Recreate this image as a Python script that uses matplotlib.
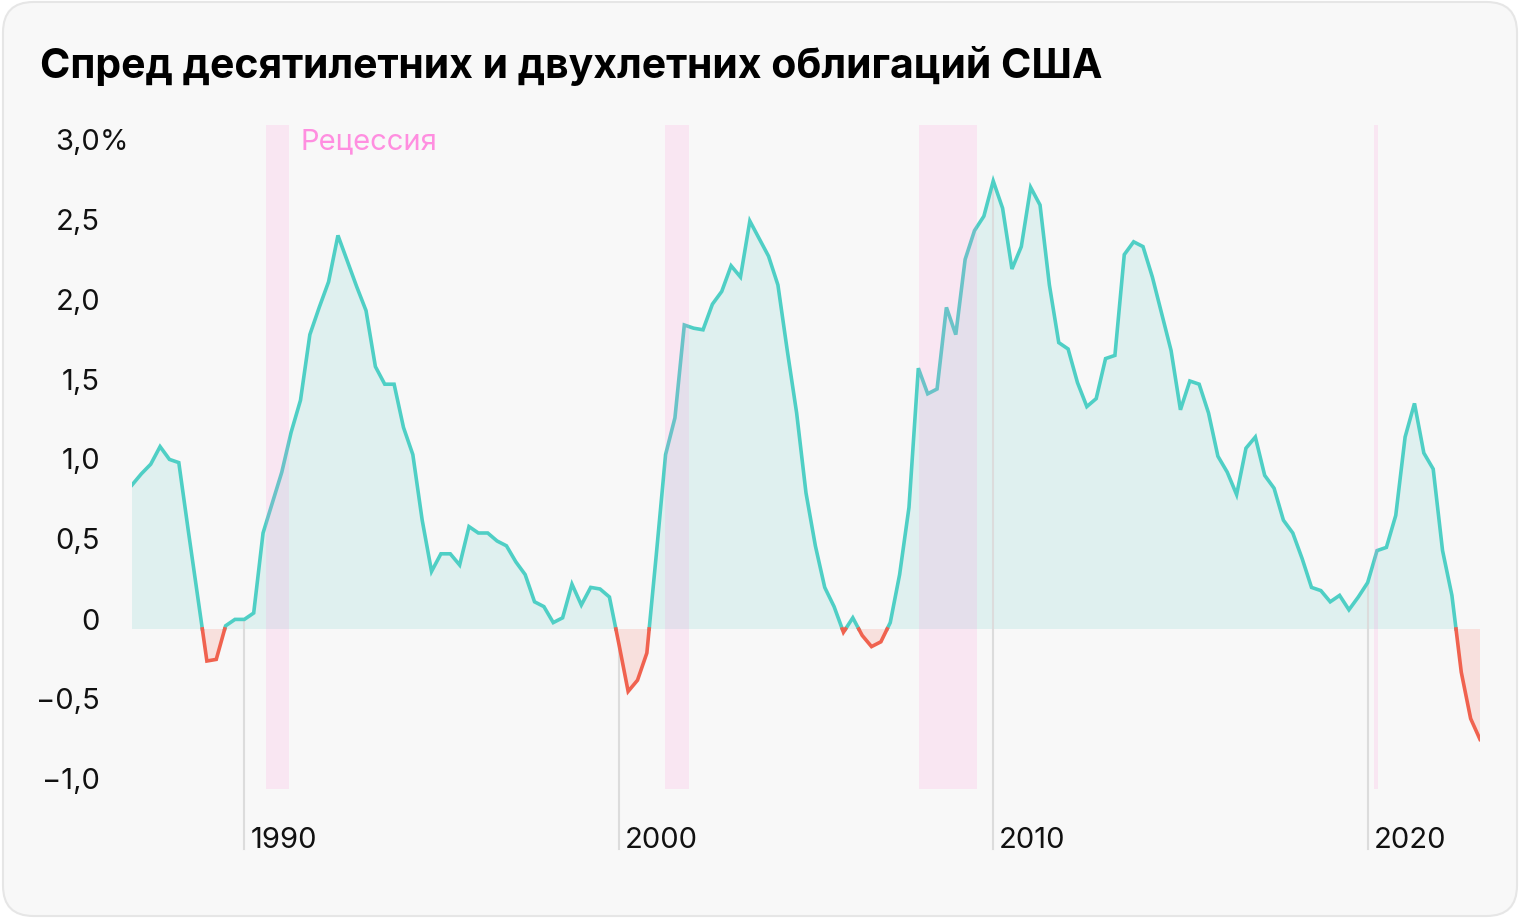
import numpy as np
import pandas as pd
import matplotlib
matplotlib.use("Agg")
import matplotlib.pyplot as plt
import matplotlib.transforms as mtransforms
from matplotlib.patches import FancyBboxPatch

plt.rcParams['font.family'] = ['Inter', 'DejaVu Sans']

# quarterly 10y-2y spread, %, from 1987 Q1
spread = [
    0.90, 0.97, 1.03, 1.14, 1.06, 1.04, 0.62, 0.21, -0.20, -0.19,
    0.02, 0.06, 0.06, 0.10, 0.60, 0.79, 0.98, 1.23, 1.43, 1.84,
    2.01, 2.17, 2.46, 2.30, 2.14, 1.99, 1.64, 1.53, 1.53, 1.26,
    1.09, 0.68, 0.36, 0.47, 0.47, 0.40, 0.64, 0.60, 0.60, 0.55,
    0.52, 0.42, 0.34, 0.17, 0.14, 0.04, 0.07, 0.28, 0.15, 0.26,
    0.25, 0.20, -0.09, -0.39, -0.32, -0.15, 0.46, 1.09, 1.32, 1.90,
    1.88, 1.87, 2.03, 2.11, 2.27, 2.20, 2.55, 2.44, 2.33, 2.15,
    1.74, 1.35, 0.85, 0.52, 0.26, 0.14, -0.02, 0.07, -0.04, -0.11,
    -0.08, 0.04, 0.34, 0.76, 1.63, 1.47, 1.50, 2.01, 1.84, 2.31,
    2.49, 2.58, 2.80, 2.63, 2.25, 2.39, 2.76, 2.65, 2.15, 1.79,
    1.75, 1.54, 1.39, 1.44, 1.69, 1.71, 2.34, 2.42, 2.39, 2.20,
    1.97, 1.74, 1.37, 1.55, 1.53, 1.35, 1.08, 0.98, 0.84, 1.13,
    1.20, 0.96, 0.88, 0.68, 0.60, 0.44, 0.26, 0.24, 0.17, 0.21,
    0.12, 0.20, 0.29, 0.49, 0.51, 0.71, 1.20, 1.41, 1.10, 1.00,
    0.49, 0.21, -0.27, -0.56, -0.69,
]
start = "1987-01-01"

recession_start = [1990.58, 2001.23, 2008.02, 2020.16]
recession_end = [1991.18, 2001.87, 2009.57, 2020.27]

year_ticks = [1990, 2000, 2010, 2020]
y_ticks = [3.0, 2.5, 2.0, 1.5, 1.0, 0.5, 0, -0.5, -1.0]
y_labels = ["3,0", "2,5", "2,0", "1,5", "1,0", "0,5", "0", "\u22120,5", "\u22121,0"]

TEAL = "#4fcfc5"
TEAL_FILL = "#dff0ef"
RED = "#f0624f"
RED_FILL = "#f8e0dd"
PINK = "#ff8ad8"

dates = pd.date_range(start, periods=len(spread), freq="QS")
x = (dates.year + (dates.month - 1) / 12).to_numpy(dtype=float)
y = np.array(spread)

# add zero crossings so the line switches colour exactly at 0
xs, ys = [x[0]], [y[0]]
for i in range(1, len(x)):
    if y[i - 1] * y[i] < 0:
        xc = x[i - 1] + (x[i] - x[i - 1]) * y[i - 1] / (y[i - 1] - y[i])
        xs.append(xc)
        ys.append(0.0)
    xs.append(x[i])
    ys.append(y[i])
xs = np.array(xs)
ys = np.array(ys)

W, H = 1520, 920
fig = plt.figure(figsize=(W / 100, H / 100), dpi=100, facecolor="white")
card = FancyBboxPatch((3 / W, 3 / H), 1 - 6 / W, 1 - 6 / H,
                      boxstyle="round,pad=0,rounding_size=0.02",
                      transform=fig.transFigure, facecolor="#f8f8f8",
                      edgecolor="#e6e6e6", linewidth=1.5, zorder=-10,
                      mutation_aspect=W / H)
fig.patches.append(card)

x0, x1 = 132, 1480
ytop, ybot = 126, 790
ax = fig.add_axes([x0 / W, 1 - ybot / H, (x1 - x0) / W, (ybot - ytop) / H])
ax.set_facecolor("none")
ax.set_xlim(1987, 2023)
ax.set_ylim(-1.0, (630 - ytop) / 160)
for s in ax.spines.values():
    s.set_visible(False)
ax.set_xticks([])
ax.set_yticks([])

ax.fill_between(xs, ys, 0, where=ys >= 0, color=TEAL_FILL, lw=0, zorder=1)
ax.fill_between(xs, ys, 0, where=ys <= 0, color=RED_FILL, lw=0, zorder=1)

pos = np.where(ys >= 0, ys, np.nan)
neg = np.where(ys <= 0, ys, np.nan)
ax.plot(xs, pos, color=TEAL, lw=2.6, zorder=3, solid_joinstyle="miter")
ax.plot(xs, neg, color=RED, lw=2.6, zorder=3, solid_joinstyle="miter")

for a, b in zip(recession_start, recession_end):
    ax.axvspan(a, b, color=PINK, alpha=0.16, lw=0, zorder=4)

bottom_val = -1.0 - 60 / 160
for yr in year_ticks:
    v = np.interp(yr, xs, ys)
    ax.plot([yr, yr], [v, bottom_val], color="#dcdcdc", lw=1.5,
            zorder=2, clip_on=False)
    off = mtransforms.ScaledTranslation(6 / 100, 0, fig.dpi_scale_trans)
    ax.text(yr, -1.0 - 51 / 160, str(yr), transform=ax.transData + off,
            ha="left", va="center", fontsize=21, color="#111111")

lab_off = mtransforms.ScaledTranslation(0, 8 / 100, fig.dpi_scale_trans)
trans = ax.get_yaxis_transform() + lab_off
lx = (100 - x0) / (x1 - x0)
for v, lab in zip(y_ticks, y_labels):
    ax.text(lx, v, lab, transform=trans, ha="right", va="center",
            fontsize=21, color="#111111", clip_on=False)
ax.text(lx, 3.0, "%", transform=trans, ha="left", va="center",
        fontsize=21, color="#111111", clip_on=False)

ax.text(1991.5, 3.0, "Рецессия", transform=ax.transData + lab_off,
        ha="left", va="center", fontsize=21, color="#ff8ee0")

fig.text(40 / W, 1 - 66 / H, "Спред десятилетних и двухлетних облигаций США",
         ha="left", va="center", fontsize=29.5, fontweight="bold", color="black")

fig.savefig("out.png", dpi=100, facecolor=fig.get_facecolor())
